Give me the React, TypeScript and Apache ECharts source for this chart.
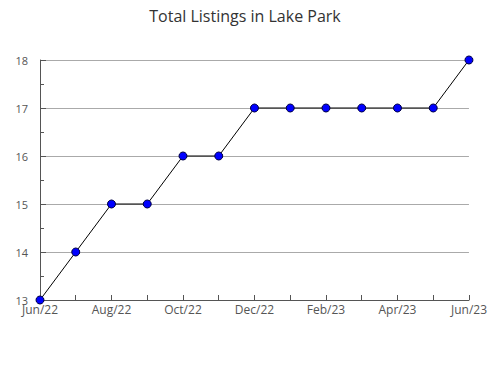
import React, { useEffect, useRef } from "react";
import * as echarts from "echarts";

const categories = ["Jun/22", "Jul/22", "Aug/22", "Sep/22", "Oct/22", "Nov/22", "Dec/22", "Jan/23", "Feb/23", "Mar/23", "Apr/23", "May/23", "Jun/23"];
const listings = [13, 14, 15, 15, 16, 16, 17, 17, 17, 17, 17, 17, 18];
const titleText = "Total Listings in Lake Park";

export default function App() {
  const ref = useRef<HTMLDivElement>(null);
  useEffect(() => {
    document.body.style.margin = "0";
    const chart = echarts.init(ref.current!, null, { renderer: "svg" });
    const font = "'Open Sans', 'Noto Sans', sans-serif";
    chart.setOption({
      animation: false,
      backgroundColor: "#ffffff",
      title: {
        text: titleText,
        left: "center",
        top: 3,
        textStyle: { fontFamily: font, fontSize: 16, fontWeight: "normal", color: "#333" },
      },
      grid: { left: 40, right: 20, top: 60, bottom: 80 },
      xAxis: {
        type: "category",
        data: categories,
        boundaryGap: false,
        axisLine: { lineStyle: { color: "#555" } },
        axisTick: { show: true, inside: true, length: 5, interval: 0, lineStyle: { color: "#555" } },
        axisLabel: { interval: 1, color: "#555", fontFamily: font, fontSize: 12, margin: 3 },
        splitLine: { show: false },
      },
      yAxis: {
        type: "value",
        min: 13,
        max: 18,
        interval: 1,
        axisLine: { show: true, lineStyle: { color: "#555" } },
        axisTick: { show: true, inside: true, length: 6, lineStyle: { color: "#555" } },
        minorTick: { show: true, splitNumber: 2, length: 4, lineStyle: { color: "#555" } },
        axisLabel: { color: "#555", fontFamily: font, fontSize: 11, margin: 12 },
        splitLine: { show: true, lineStyle: { color: "#aaa", width: 1 } },
      },
      series: [
        {
          type: "line",
          data: listings,
          symbol: "circle",
          symbolSize: 8,
          lineStyle: { color: "#000", width: 1 },
          itemStyle: { color: "#0000ff", borderColor: "#000044", borderWidth: 1 },
        },
      ],
    });
    return () => chart.dispose();
  }, []);
  return <div ref={ref} style={{ width: 490, height: 380 }} />;
}
